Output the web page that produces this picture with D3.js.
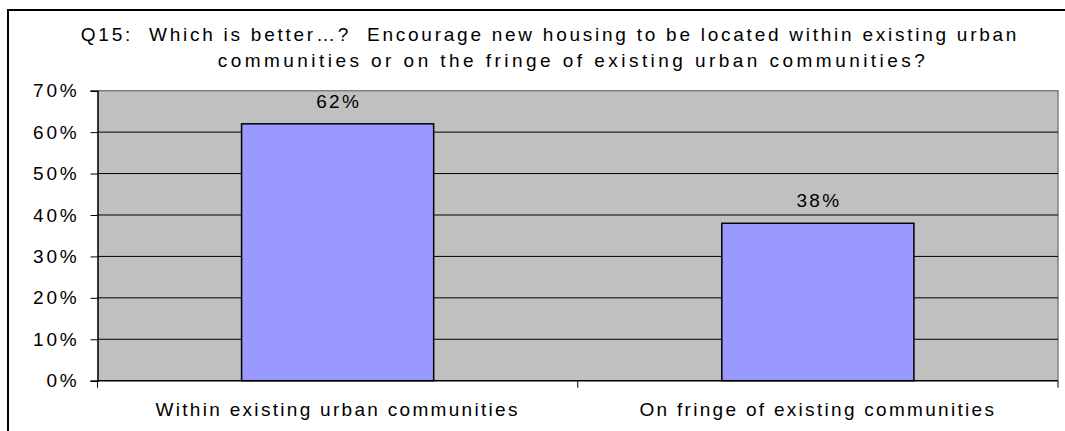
<!DOCTYPE html>
<html>
<head>
<meta charset="utf-8">
<script src="https://cdn.jsdelivr.net/npm/d3@7/dist/d3.min.js"></script>
<style>
  html, body { margin: 0; padding: 0; background: #fff; }
  svg { display: block; }
  text { font-family: "Liberation Sans", Arial, sans-serif; fill: #000; white-space: pre; }
</style>
</head>
<body>
<svg id="chart" width="1065" height="431"></svg>
<script>
// Survey responses, Q15
const categories = ["Within existing urban communities", "On fringe of existing communities"];
const shares = [62, 38];
const yTicks = [0, 10, 20, 30, 40, 50, 60, 70];
const titleLines = [
  "Q15:  Which is better\u2026?  Encourage new housing to be located within existing urban",
  "communities or on the fringe of existing urban communities?"
];

const W = 1065, H = 431;
const plot = { left: 97.5, right: 1058, top: 90.7, bottom: 380.7 };
const labelFont = "19px";
const labelSpacing = "2.3px";

const svg = d3.select("#chart");

svg.append("rect").attr("width", W).attr("height", H).attr("fill", "#fff");

// outer chart frame (runs past the right and bottom edges)
svg.append("rect")
  .attr("x", 8).attr("y", 10)
  .attr("width", 1100).attr("height", 500)
  .attr("fill", "none").attr("stroke", "#000").attr("stroke-width", 2);

// title, two centred lines
const titleCenters = [550, 573];
const titleSpacing = ["2.75px", "3.45px"];
const title = svg.append("text")
  .attr("text-anchor", "middle")
  .style("font-size", labelFont);
titleLines.forEach((t, i) => {
  title.append("tspan")
    .attr("x", titleCenters[i]).attr("y", 41 + i * 26)
    .style("letter-spacing", titleSpacing[i])
    .text(t);
});

const x = d3.scaleBand()
  .domain(categories)
  .range([plot.left, plot.right])
  .paddingInner(0.6)
  .paddingOuter(0.3);

const y = d3.scaleLinear().domain([0, 70]).range([plot.bottom, plot.top]);

// plot background
svg.append("rect")
  .attr("x", plot.left).attr("y", plot.top)
  .attr("width", plot.right - plot.left).attr("height", plot.bottom - plot.top)
  .attr("fill", "#C0C0C0");
// top/right plot border
svg.append("path")
  .attr("d", `M${plot.left},${plot.top}H${plot.right}V${plot.bottom}`)
  .attr("fill", "none").attr("stroke", "#808080").attr("stroke-width", 1.5);

// gridlines
svg.append("g")
  .selectAll("line")
  .data(yTicks.filter(t => t > 0 && t < 70))
  .join("line")
  .attr("x1", plot.left).attr("x2", plot.right)
  .attr("y1", d => y(d)).attr("y2", d => y(d))
  .attr("stroke", "#000").attr("stroke-width", 1);

// bars
svg.append("g")
  .selectAll("rect")
  .data(shares)
  .join("rect")
  .attr("x", (d, i) => x(categories[i]))
  .attr("y", d => y(d))
  .attr("width", x.bandwidth())
  .attr("height", d => y(0) - y(d))
  .attr("fill", "#9999FF")
  .attr("stroke", "#000").attr("stroke-width", 1.5);

// value labels
svg.append("g")
  .selectAll("text")
  .data(shares)
  .join("text")
  .attr("x", (d, i) => x(categories[i]) + x.bandwidth() / 2 + 1)
  .attr("y", d => y(d) - 16)
  .attr("text-anchor", "middle")
  .style("font-size", labelFont)
  .style("letter-spacing", labelSpacing)
  .text(d => d + "%");

// y axis
const yAxis = d3.axisLeft(y)
  .tickValues(yTicks)
  .tickFormat(d => d + "%")
  .tickSize(7)
  .tickPadding(11);
const gy = svg.append("g").attr("transform", `translate(${plot.left},0)`).call(yAxis);
gy.select(".domain").attr("stroke", "#000").attr("stroke-width", 1.5);
gy.selectAll(".tick line").attr("stroke", "#000");
gy.selectAll(".tick text")
  .style("font-size", labelFont)
  .style("letter-spacing", "2.8px")
  .style("font-family", "'Liberation Sans', Arial, sans-serif");

// x axis: ticks sit on category boundaries
const xAxisLine = svg.append("g");
xAxisLine.append("line")
  .attr("x1", plot.left).attr("x2", plot.right)
  .attr("y1", plot.bottom).attr("y2", plot.bottom)
  .attr("stroke", "#000").attr("stroke-width", 1.5);
const bounds = d3.range(categories.length + 1).map(i => x.range()[0] + i * x.step());
xAxisLine.selectAll("line.tk")
  .data(bounds)
  .join("line").attr("class", "tk")
  .attr("x1", d => d).attr("x2", d => d)
  .attr("y1", plot.bottom).attr("y2", plot.bottom + 7)
  .attr("stroke", "#000");
xAxisLine.selectAll("text")
  .data(categories)
  .join("text")
  .attr("x", d => x(d) + x.bandwidth() / 2)
  .attr("y", 416)
  .attr("text-anchor", "middle")
  .style("font-size", labelFont)
  .style("letter-spacing", labelSpacing)
  .text(d => d);
</script>
</body>
</html>
